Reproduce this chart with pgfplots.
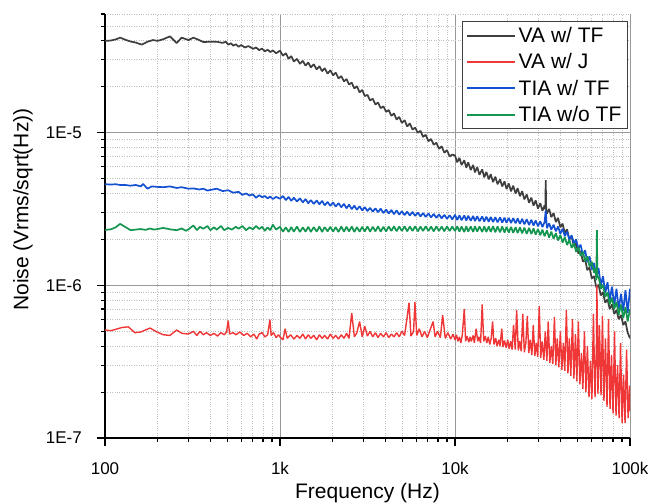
\documentclass[border=0pt]{standalone}
\usepackage{fontspec}
\setmainfont{Liberation Sans}
\usepackage{pgfplots}
\pgfplotsset{compat=1.18}
\definecolor{cblack}{RGB}{62,62,62}
\definecolor{cred}{RGB}{240,55,55}
\definecolor{cblue}{RGB}{20,80,210}
\definecolor{cgreen}{RGB}{20,150,80}
\begin{document}
\begin{tikzpicture}
\useasboundingbox (-105pt,-65pt) rectangle (545pt,438pt);
\begin{axis}[
  at={(0,0)}, anchor=south west, scale only axis,
  width=525pt, height=424pt,
  xmode=log, ymode=log,
  xmin=100, xmax=100000, ymin=1e-7, ymax=6e-5,
  axis lines=left, axis line style={-, line width=1.4pt, black},
  xtick={100,1000,10000,100000}, xticklabels={100,1k,10k,100k},
  ytick={1e-7,1e-6,1e-5}, yticklabels={1E-7,1E-6,1E-5},
  minor xtick={200,300,400,500,600,700,800,900,2000,3000,4000,5000,6000,7000,8000,9000,20000,30000,40000,50000,60000,70000,80000,90000},
  minor ytick={2e-7,3e-7,4e-7,5e-7,6e-7,7e-7,8e-7,9e-7,2e-6,3e-6,4e-6,5e-6,6e-6,7e-6,8e-6,9e-6,2e-5,3e-5,4e-5,5e-5,6e-5},
  tick align=outside, major tick length=8pt, minor tick length=4pt,
  every tick/.style={black, line width=1.1pt},
  grid=both,
  major grid style={black!40, line width=0.9pt},
  minor grid style={black!25, dotted, line width=0.9pt},
  /pgf/number format/assume math mode=true,
  tick label style={font=\fontsize{17}{17}\selectfont},
  xticklabel style={anchor=base, inner sep=0pt, yshift=-28.7pt},
  yticklabel style={anchor=east, inner sep=0pt, xshift=-15pt},
  xlabel={Frequency (Hz)}, ylabel={Noise (Vrms/sqrt(Hz))},
  label style={font=\fontsize{21}{21}\selectfont, inner sep=0pt},
  xlabel style={at={([yshift=-60.3pt]axis description cs:0.5,0)}, anchor=base},
  ylabel style={at={([xshift=-76.7pt]axis description cs:0,0.539)}, anchor=base},
  legend style={at={(rel axis cs:0.996,0.983)}, anchor=north east,
    draw=black!75, line width=1pt, fill=white,
    font=\fontsize{21}{21}\selectfont, inner xsep=3.5pt, inner ysep=3pt,
    row sep=4.6pt, nodes={inner sep=2.5pt}},
  legend cell align=left,
  legend image code/.code={\draw[#1, line width=2pt] (0pt,0pt) -- (48pt,0pt);},
  every axis plot/.append style={line width=1.7pt, line join=bevel},
]
\addlegendimage{cblack, line width=2pt}\addlegendentry{VA w/ TF}
\addlegendimage{cred, line width=2pt}\addlegendentry{VA w/ J}
\addlegendimage{cblue, line width=2pt}\addlegendentry{TIA w/ TF}
\addlegendimage{cgreen, line width=2pt}\addlegendentry{TIA w/o TF}

% VA w/ TF (values in 1e-6)
\addplot[cblack, forget plot] table[y expr=\thisrowno{1}*1e-6] {
f v
100 40.0
108 40.2
116 41.0
122 42.0
130 40.8
140 39.6
150 39.0
162 37.8
175 39.5
188 40.5
200 40.0
215 41.0
235 42.8
247 40.5
257 38.7
274 42.0
300 40.5
320 42.0
345 40.5
365 39.3
400 39.5
435 39.5
470 38.8
490 39.5
506 37.8
525 38.6
540 37.2
560 38.0
580 36.6
600 37.6
630 36.2
660 37.0
703 35.5
730 36.2
760 34.8
790 35.6
820 34.2
850 35.0
880 33.8
910 34.6
950 33.2
1000 34.5
1040 32.0
1080 33.2
1120 30.5
1160 31.8
1200 29.3
1250 30.5
1300 28.3
1350 29.6
1400 27.5
1450 28.9
1500 26.8
1560 28.1
1620 26.0
1680 27.3
1740 25.3
1800 26.5
1870 24.4
1940 25.7
2010 23.8
2080 24.8
2160 22.7
2240 23.5
2320 21.7
2400 22.5
2480 20.7
2570 21.3
2660 19.5
2750 20.2
2850 18.4
2950 19.1
3050 17.4
3160 17.7
3270 16.3
3390 16.7
3510 15.3
3630 15.8
3760 14.5
3900 14.9
4040 13.7
4180 14.1
4330 12.9
4480 13.4
4640 12.2
4800 12.7
4970 11.6
5150 12.1
5330 11.0
5520 11.5
5720 10.5
5920 10.8
6130 10.0
6350 10.3
6570 9.4
6800 9.7
7050 8.8
7300 9.1
7560 8.35
7830 8.6
8100 7.85
8390 8.15
8690 7.4
9000 7.7
9320 7.0
9650 7.2
10000 7.1
10300 6.4
10600 6.85
10900 6.15
11300 6.6
11600 5.9
11900 6.4
12300 5.7
12700 6.15
13000 5.5
13400 5.95
13800 5.3
14300 5.75
14700 5.1
15100 5.55
15600 4.95
16000 5.35
16500 4.75
17000 5.15
17500 4.6
18100 4.95
18600 4.45
19200 4.8
19700 4.28
20300 4.65
20900 4.13
21500 4.5
22200 4.0
22800 4.33
23500 3.84
24200 4.14
24900 3.66
25700 3.94
26500 3.48
27300 3.76
28100 3.33
28900 3.6
29800 3.19
30700 3.46
31600 3.08
32500 3.34
32800 3.15
33000 4.9
33200 3.12
33500 2.95
34500 3.17
35500 2.8
36600 2.98
37700 2.6
38800 2.77
40000 2.4
41200 2.54
42400 2.2
43700 2.33
45000 2.0
46400 2.1
47800 1.8
49200 1.89
50700 1.62
52200 1.68
53800 1.43
55400 1.48
57000 1.26
58700 1.31
60500 1.11
62300 1.15
64200 0.97
66100 1.01
68100 0.86
70100 0.9
72200 0.77
74400 0.81
76600 0.7
78900 0.75
81300 0.65
83700 0.69
86200 0.6
88800 0.64
91500 0.55
94200 0.58
97000 0.49
100000 0.45
};

% TIA w/ TF
\addplot[cblue, forget plot] table[y expr=\thisrowno{1}*1e-6] {
f v
100 4.6
108 4.58
115 4.6
122 4.55
130 4.55
140 4.5
150 4.55
160 4.45
165 4.62
175 4.3
185 4.45
200 4.42
215 4.4
235 4.45
257 4.35
274 4.4
300 4.3
320 4.32
345 4.25
365 4.3
385 4.18
400 4.22
435 4.3
470 4.15
506 4.2
540 4.05
580 4.1
610 3.92
640 4.0
670 3.88
700 3.95
730 3.75
760 3.9
790 3.78
820 3.85
850 3.72
880 3.82
910 3.68
950 3.8
1000 3.70
1040 3.85
1080 3.62
1120 3.80
1160 3.58
1200 3.75
1250 3.55
1300 3.72
1350 3.50
1400 3.68
1450 3.45
1500 3.62
1560 3.42
1620 3.60
1680 3.40
1740 3.58
1800 3.35
1870 3.52
1940 3.32
2010 3.50
2080 3.28
2160 3.46
2240 3.25
2320 3.42
2400 3.20
2480 3.38
2570 3.16
2660 3.33
2750 3.13
2850 3.30
2950 3.10
3050 3.26
3160 3.07
3270 3.22
3390 3.04
3510 3.20
3630 3.02
3760 3.18
3900 2.98
4040 3.14
4180 2.96
4330 3.12
4480 2.93
4640 3.10
4800 2.91
4970 3.06
5150 2.89
5330 3.04
5520 2.87
5720 3.03
5920 2.85
6130 3.00
6350 2.83
6570 2.98
6800 2.81
7050 2.96
7300 2.79
7560 2.94
7830 2.77
8100 2.92
8390 2.75
8690 2.90
9000 2.73
9320 2.88
9650 2.71
10000 2.90
10300 2.68
10600 2.88
10900 2.67
11300 2.87
11600 2.66
11900 2.86
12300 2.65
12700 2.85
13000 2.64
13400 2.84
13800 2.63
14300 2.83
14700 2.62
15100 2.82
15600 2.61
16000 2.81
16500 2.60
17000 2.80
17500 2.59
18100 2.79
18600 2.58
19200 2.78
19700 2.57
20300 2.77
20900 2.56
21500 2.76
22200 2.55
22800 2.75
23500 2.53
24200 2.73
24900 2.51
25700 2.71
26500 2.49
27300 2.69
28100 2.47
28900 2.66
29800 2.44
30700 2.63
31600 2.41
32500 2.60
33000 3.10
33500 2.37
34500 2.55
35500 2.32
36600 2.50
37700 2.26
38800 2.43
40000 2.18
41200 2.35
42400 2.10
43700 2.25
45000 2.00
46400 2.13
47800 1.88
49200 2.00
50700 1.74
52200 1.85
53800 1.58
55400 1.70
57000 1.42
58700 1.55
60500 1.27
62300 1.40
64200 1.13
66100 1.30
68100 1.00
70100 1.15
72200 0.89
74400 1.05
76600 0.80
78900 0.98
81300 0.74
83700 0.95
86200 0.70
88800 0.88
91500 0.68
94200 0.93
97000 0.66
100000 0.95
};

% TIA w/o TF
\addplot[cgreen, forget plot] table[y expr=\thisrowno{1}*1e-6] {
f v
100 2.31
108 2.33
115 2.40
122 2.53
130 2.42
140 2.30
150 2.32
160 2.34
170 2.31
181 2.36
190 2.32
200 2.34
215 2.38
235 2.33
257 2.30
274 2.36
290 2.28
300 2.33
320 2.47
335 2.30
349 2.42
365 2.35
385 2.45
400 2.30
420 2.40
435 2.32
460 2.45
480 2.30
506 2.38
530 2.32
560 2.42
580 2.35
610 2.45
640 2.30
670 2.40
700 2.33
730 2.45
760 2.34
790 2.42
820 2.28
850 2.40
880 2.30
910 2.50
950 2.32
1000 2.42
1040 2.25
1080 2.40
1120 2.24
1160 2.41
1200 2.25
1250 2.43
1300 2.24
1350 2.40
1400 2.25
1450 2.42
1500 2.24
1560 2.41
1620 2.25
1680 2.43
1740 2.24
1800 2.41
1870 2.26
1940 2.42
2010 2.25
2080 2.41
2160 2.24
2240 2.43
2320 2.25
2400 2.42
2480 2.26
2570 2.43
2660 2.24
2750 2.41
2850 2.25
2950 2.42
3050 2.26
3160 2.43
3270 2.25
3390 2.42
3510 2.26
3630 2.44
3760 2.25
3900 2.42
4040 2.26
4180 2.43
4330 2.27
4480 2.44
4640 2.26
4800 2.43
4970 2.27
5150 2.44
5330 2.26
5520 2.43
5720 2.27
5920 2.44
6130 2.26
6350 2.43
6570 2.27
6800 2.44
7050 2.27
7300 2.43
7560 2.26
7830 2.44
8100 2.27
8390 2.43
8690 2.26
9000 2.44
9320 2.27
9650 2.43
10000 2.27
10300 2.44
10600 2.25
10900 2.43
11300 2.24
11600 2.44
11900 2.25
12300 2.43
12700 2.24
13000 2.44
13400 2.25
13800 2.43
14300 2.24
14700 2.44
15100 2.24
15600 2.43
16000 2.24
16500 2.44
17000 2.23
17500 2.43
18100 2.23
18600 2.43
19200 2.22
19700 2.42
20300 2.22
20900 2.42
21500 2.21
22200 2.41
22800 2.20
23500 2.40
24200 2.19
24900 2.39
25700 2.18
26500 2.38
27300 2.17
28100 2.36
28900 2.15
29800 2.34
30700 2.13
31600 2.32
32500 2.10
33500 2.29
34500 2.06
35500 2.25
36600 2.02
37700 2.20
38800 1.97
40000 2.14
41200 1.91
42400 2.07
43700 1.84
45000 1.99
46400 1.76
47800 1.89
49200 1.66
50700 1.78
52200 1.56
53800 1.66
55400 1.44
57000 1.55
58700 1.33
60500 1.43
62300 1.21
63500 1.29
64200 1.08
64700 2.30
65100 1.12
66100 1.15
68100 0.95
70100 1.01
72200 0.84
74400 0.90
76600 0.75
78900 0.83
81300 0.70
83700 0.78
86200 0.64
88800 0.75
91500 0.61
94200 0.72
97000 0.58
100000 0.70
};

% VA w/ J (values in 1e-7)
\addplot[cred, forget plot, line width=1.4pt] table[y expr=\thisrowno{1}*1e-7] {
f v
100 5.1
108 5.05
115 5.15
125 5.3
136 5.35
148 4.9
160 4.95
170 5.1
181 5.25
198 4.95
215 4.75
235 4.7
257 5.1
275 4.85
299 4.8
320 5.0
335 4.7
349 5.0
365 4.75
380 4.9
400 4.7
420 4.85
440 4.65
460 4.9
480 4.75
495 4.95
506 5.9
515 4.8
540 4.9
560 4.75
590 4.95
620 4.7
650 4.85
680 4.6
710 4.8
736 4.45
760 4.8
790 4.9
820 4.6
850 4.75
876 5.97
890 4.7
920 4.9
950 4.55
980 4.75
1000 4.6
1040 4.4
1070 5.2
1100 4.5
1150 4.75
1200 4.45
1250 4.7
1300 4.5
1350 4.8
1400 4.45
1450 4.75
1500 4.5
1560 4.7
1620 4.4
1680 4.75
1740 4.5
1800 4.7
1870 4.45
1940 4.8
2010 4.5
2080 4.7
2160 4.45
2240 4.75
2320 4.5
2400 4.85
2480 4.5
2570 6.6
2660 4.6
2750 4.9
2850 5.8
2950 4.6
3050 5.4
3160 4.65
3270 5.0
3390 4.6
3510 4.9
3630 4.55
3760 4.85
3900 4.6
4040 4.9
4180 4.55
4330 4.8
4480 4.6
4640 4.9
4800 4.6
4970 5.0
5150 4.7
5330 6.2
5460 7.7
5600 4.65
5800 5.0
5900 7.8
6050 4.7
6250 5.2
6480 4.6
6700 5.0
6950 4.55
7200 5.1
7500 5.8
7700 4.6
7950 5.0
8250 4.55
8500 6.4
8800 4.5
9100 4.9
9450 4.45
9750 4.8
10000 4.4
10200 4.75
10400 4.3
10600 4.6
10800 4.2
11000 4.7
11300 7.0
11500 4.3
11700 4.65
12000 4.25
12200 4.6
12400 4.3
12700 4.7
12900 4.2
13200 5.2
13500 4.3
13700 4.6
14000 4.2
14300 7.5
14600 4.3
14900 4.65
15200 4.2
15500 4.6
15800 4.1
16100 4.5
16400 5.8
16700 4.1
17100 4.5
17400 4.0
17800 4.4
18100 4.0
18500 5.2
18800 3.95
19200 4.35
19600 3.9
20000 4.4
20400 3.85
20800 4.3
21200 3.8
21600 5.5
22100 3.8
22500 6.9
23000 3.75
23400 4.3
23900 3.7
24400 6.5
24900 3.65
25400 4.2
25900 6.3
26400 3.6
26900 4.4
27500 3.5
28000 5.5
28600 3.45
29100 4.2
29700 3.4
30300 7.3
30900 3.35
31500 4.3
32200 3.25
32800 5.0
33500 3.2
34100 5.8
34800 3.1
35500 4.0
36200 3.05
37000 6.2
37700 3.0
38400 4.5
39200 2.9
40000 5.0
40800 2.8
41600 4.2
42400 2.75
43300 6.9
44200 2.65
45000 4.5
45900 2.55
46900 6.0
47800 2.45
48800 4.8
49700 2.35
50700 5.8
51700 2.25
52800 3.6
53800 2.1
54900 5.0
56000 2.0
57100 4.0
58300 1.85
59400 3.2
60600 1.8
61800 6.5
63100 1.85
64300 4.0
64700 10.0
65600 1.95
66900 5.5
68300 1.9
69600 6.3
71000 1.75
72400 4.5
73900 1.6
75400 6.0
76900 1.55
78400 3.5
80000 1.45
81600 5.0
83200 1.4
84900 3.0
86600 1.35
88300 4.2
90100 1.25
91900 2.6
93700 1.25
95600 3.8
97500 1.35
99500 2.2
100000 1.5
};
\end{axis}
\end{tikzpicture}
\end{document}
